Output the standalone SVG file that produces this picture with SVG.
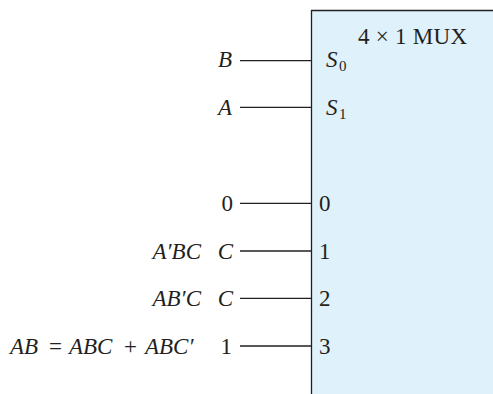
<svg xmlns="http://www.w3.org/2000/svg" width="493" height="394" viewBox="0 0 493 394">
<style>
text{font-family:"Liberation Serif","Times New Roman",serif;font-size:23px;fill:#231f20}
.i{font-style:italic}
.sub{font-size:15px;font-style:normal}
.w{stroke:#231f20;stroke-width:1.3;fill:none}
</style>
<rect width="493" height="394" fill="#ffffff"/>
<g id="mux">
<path d="M311.5,394 V10.5 H494 V394 Z" fill="#dff1fa" stroke="none"/>
<path d="M311.5,394 V10.5 H494" class="w" stroke-width="2"/>
<text x="358" y="44" textLength="109" lengthAdjust="spacing">4 × 1 MUX</text>
<text x="326" y="67" class="i">S</text><text x="339" y="71" class="sub">0</text>
<text x="326" y="115" class="i">S</text><text x="339" y="119" class="sub">1</text>
<text x="319" y="211">0</text>
<text x="319" y="259">1</text>
<text x="319" y="306">2</text>
<text x="319" y="354">3</text>
</g>
<g id="in-B"><text x="232" y="67" text-anchor="end" class="i">B</text></g>
<g id="in-A"><text x="232" y="115" text-anchor="end" class="i">A</text></g>
<g id="in-0"><text x="233" y="211" text-anchor="end">0</text></g>
<g id="in-1">
<text x="201" y="259" text-anchor="end" class="i">A′BC</text>
<text x="233" y="259" text-anchor="end" class="i">C</text>
</g>
<g id="in-2">
<text x="201" y="306" text-anchor="end" class="i">AB′C</text>
<text x="233" y="306" text-anchor="end" class="i">C</text>
</g>
<g id="in-3">
<text y="354"><tspan x="10" class="i">AB</tspan><tspan x="49">=</tspan><tspan x="69" class="i">ABC</tspan><tspan x="124">+</tspan><tspan x="145" class="i">ABC′</tspan></text>
<text x="232" y="354" text-anchor="end">1</text>
</g>
<g id="connectors" class="w">
<line x1="240" y1="60.7" x2="311" y2="60.7"/>
<line x1="240" y1="107.3" x2="311" y2="107.3"/>
<line x1="240" y1="203.3" x2="311" y2="203.3"/>
<line x1="240" y1="251" x2="311" y2="251"/>
<line x1="240" y1="298.3" x2="311" y2="298.3"/>
<line x1="240" y1="346" x2="311" y2="346"/>
</g>
</svg>
